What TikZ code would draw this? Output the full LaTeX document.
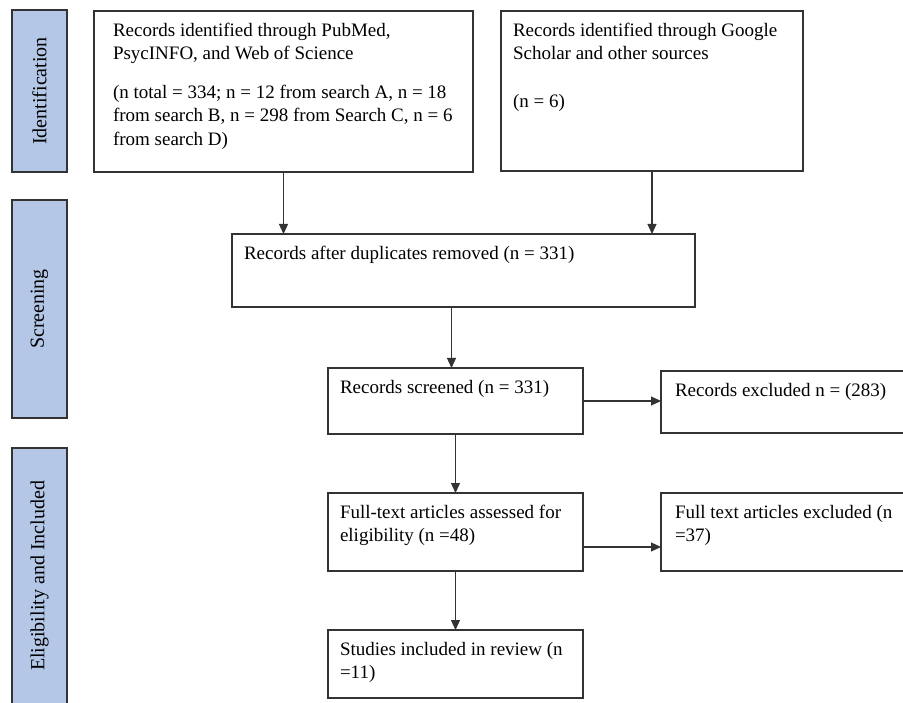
\documentclass[tikz,border=0pt]{standalone}
\usepackage{fontspec}
\setmainfont{Liberation Serif}
\usepackage{tikz}
\usepackage{xcolor}
\usetikzlibrary{arrows.meta,calc,positioning}
\definecolor{barblue}{HTML}{B4C7E7}
\definecolor{edgegray}{HTML}{333333}
\tikzset{ar/.style={->,draw=edgegray,line width=1.2pt}}
\tikzstyle{blk}=[draw=edgegray, line width=1.2pt, anchor=north west, outer sep=0pt, inner xsep=12pt, inner ysep=12pt, font=\fontsize{19}{23.5}\selectfont]
\tikzstyle{phase}=[draw=edgegray, line width=1.2pt, fill=barblue, rotate=90, outer sep=0pt, inner sep=0pt, minimum height=55pt, font=\fontsize{20}{23}\selectfont]
\newcommand{\boxtext}[3]{\parbox[c][#2][t]{#1}{\raggedright #3}}

\begin{document}
\begin{tikzpicture}[x=1pt,y=-1pt,>={Triangle[length=10pt,width=9pt]}]
    \useasboundingbox (0,0) rectangle (903,703);
    \clip (0,0) rectangle (903,703);
    \node [phase, minimum width=162pt] (idf) at (39.5,91) {Identification};
    \node [phase, minimum width=218pt] (scrn) at (39.5,309) {Screening};
    \node [phase, minimum width=256pt] (elinc) at (39.5,576) {Eligibility and Included};
    \node [blk, inner xsep=19pt] (pub) at (94,11) {\boxtext{341pt}{137pt}{Records identified through PubMed,\\ PsycINFO, and Web of Science\\[15pt] (n total = 334; n = 12 from search A, n = 18\\ from search B, n = 298 from Search C, n = 6\\ from search D)}};
    \node [blk] (gsch) at (501,11) {\boxtext{278pt}{136pt}{Records identified through Google\\ Scholar and other sources\\[24pt] (n = 6)}};
    \node [blk] (dup) at (232,234) {\boxtext{439pt}{49pt}{Records after duplicates removed (n = 331)}};
    \node [blk] (scr) at (328,368) {\boxtext{231pt}{42pt}{Records screened (n = 331)}};
    \node [blk, inner xsep=14pt] (excl) at (661,371) {\boxtext{231pt}{38pt}{Records excluded n = (283)}};
    \node [blk] (elig) at (328,493) {\boxtext{231pt}{54pt}{Full-text articles assessed for\\ eligibility (n =48)}};
    \node [blk, inner xsep=14pt] (ftex) at (661,493) {\boxtext{231pt}{54pt}{Full text articles excluded (n\\ =37)}};
    \node [blk] (incl) at (328,630) {\boxtext{231pt}{44pt}{Studies included in review (n\\ =11)}};
    \draw[ar] (pub.south) -- (pub.south |- dup.north);
    \draw[ar] (gsch.south) -- (gsch.south |- dup.north);
    \draw[ar] ([xshift=-4pt]scr.north |- dup.south) -- ([xshift=-4pt]scr.north);
    \draw[ar] (scr.east) -- (scr.east -| excl.west);
    \draw[ar] (scr.south) -- (elig.north);
    \draw[ar] ([yshift=-15pt]elig.east) -- ([yshift=-15pt]elig.east -| ftex.west);
    \draw[ar] (elig.south) -- (incl.north);
\end{tikzpicture}
\end{document}
